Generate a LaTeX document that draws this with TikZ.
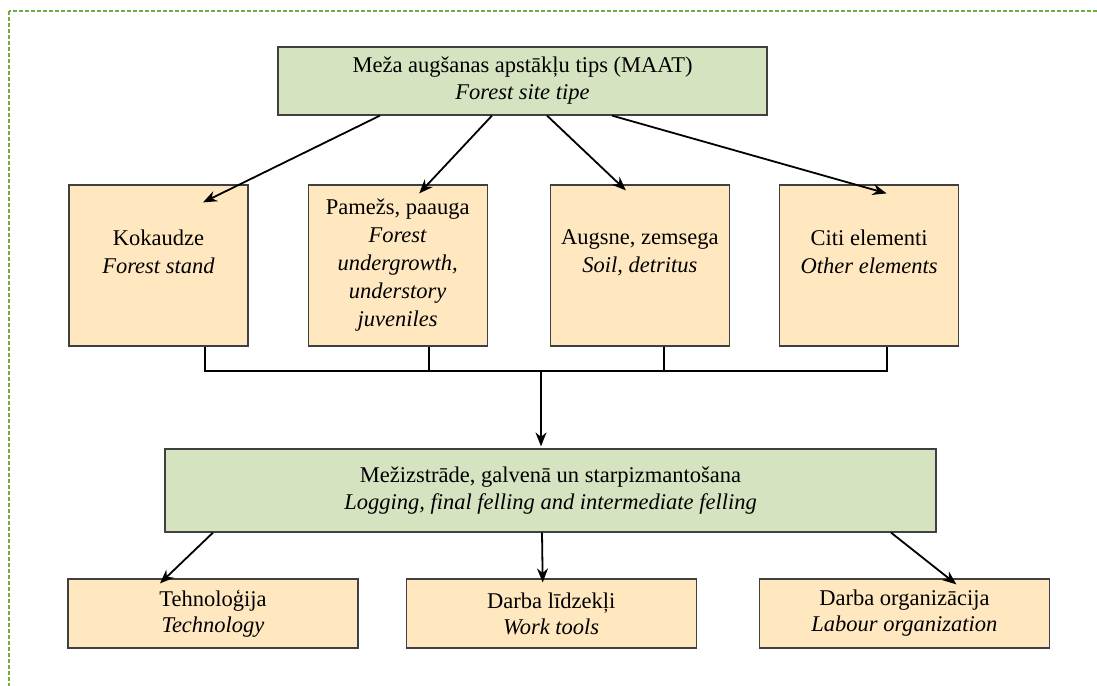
\documentclass[tikz,border=0pt]{standalone}
\usepackage{fontspec}
\setmainfont{Liberation Serif}
\usepackage{tikz}
\usetikzlibrary{arrows.meta,positioning}
\definecolor{sagegreen}{RGB}{214,227,192}
\definecolor{paleorange}{RGB}{255,231,192}
\definecolor{framegreen}{RGB}{112,173,71}
\definecolor{edgegray}{RGB}{64,64,64}
\tikzset{
  head/.style={rectangle,draw=edgegray,line width=1.2pt,fill=sagegreen,align=center,
              inner sep=2pt,font=\fontsize{22.5}{27}\selectfont},
  part/.style={rectangle,draw=edgegray,line width=1.2pt,fill=paleorange,
              minimum width=179pt,minimum height=161pt,inner sep=2pt,align=center,font=\fontsize{22.5}{28}\selectfont},
  leaf/.style={rectangle,draw=edgegray,line width=1.2pt,fill=paleorange,
              minimum width=290pt,minimum height=69pt,inner sep=2pt,align=center,font=\fontsize{22.5}{26}\selectfont},
  frame/.style={draw=framegreen,line width=1.3pt,dash pattern=on 4pt off 2pt},
  flow/.style={-{Stealth[length=14pt,width=11pt]},line width=1.8pt},
  bus/.style={line width=1.8pt},
}

\begin{document}
\begin{tikzpicture}[x=1pt,y=-1pt]
  \useasboundingbox (0,0) rectangle (1097,685);
  \clip (0,0) rectangle (1097,685);
  \draw[frame] (9,11) rectangle (1120,710);

  \node[head,minimum width=489pt,minimum height=68pt] (maat) at (522.5,81)
    {Meža augšanas apstākļu tips (MAAT)\\\textit{Forest site tipe}};
  \node[part] (kok) at (158.5,265.5) {Kokaudze\\\textit{Forest stand}\\\mbox{}};
  \node[part,right=59pt of kok] (pam)
    {Pamežs, paauga\\\textit{Forest}\\\textit{undergrowth,}\\\textit{understory}\\\textit{juveniles}};
  \node[part,right=62pt of pam] (aug) {Augsne, zemsega\\\textit{Soil, detritus}\\\mbox{}};
  \node[part,right=49pt of aug] (citi) {Citi elementi\\\textit{Other elements}\\\mbox{}};
  \node[head,minimum width=771pt,minimum height=83pt] (mezh) at (550.5,490.5)
    {Mežizstrāde, galvenā un starpizmantošana\\\textit{Logging, final felling and intermediate felling}};
  \node[leaf] (tech) at (213,613.5) {Tehnoloģija\\\textit{Technology}};
  \node[leaf,right=47pt of tech] (tools) {Darba līdzekļi\\\textit{Work tools}};
  \node[leaf,right=62pt of tools] (org) {Darba organizācija\\\textit{Labour organization}};
  \coordinate (bus) at (541,371);

  \draw[flow] ([xshift=-142.5pt]maat.south) -- ([xshift=44.5pt,yshift=-18pt]kok.north);
  \draw[flow] ([xshift=-30.5pt]maat.south) -- ([xshift=21.5pt,yshift=-9pt]pam.north);
  \draw[flow] ([xshift=24.5pt]maat.south) -- ([xshift=-14pt,yshift=-6pt]aug.north);
  \draw[flow] ([xshift=89.5pt]maat.south) -- ([xshift=17.5pt,yshift=-9pt]citi.north);

  \draw[bus] ([xshift=46.5pt]kok.south) |- (bus);
  \draw[bus] ([xshift=17.5pt]citi.south) |- (bus);
  \draw[bus] ([xshift=31.5pt]pam.south) -- ([xshift=31.5pt]pam.south |- bus);
  \draw[bus] ([xshift=24pt]aug.south) -- ([xshift=24pt]aug.south |- bus);
  \draw[flow] (bus) -- ([xshift=-9.5pt,yshift=2pt]mezh.north);

  \draw[flow] ([xshift=-337.5pt]mezh.south) -- ([xshift=-53pt,yshift=-5pt]tech.north);
  \draw[flow] ([xshift=-8.5pt]mezh.south) -- ([xshift=-8.5pt,yshift=-4pt]tools.north);
  \draw[flow] ([xshift=340.5pt]mezh.south) -- ([xshift=52pt,yshift=-6pt]org.north);
\end{tikzpicture}
\end{document}
